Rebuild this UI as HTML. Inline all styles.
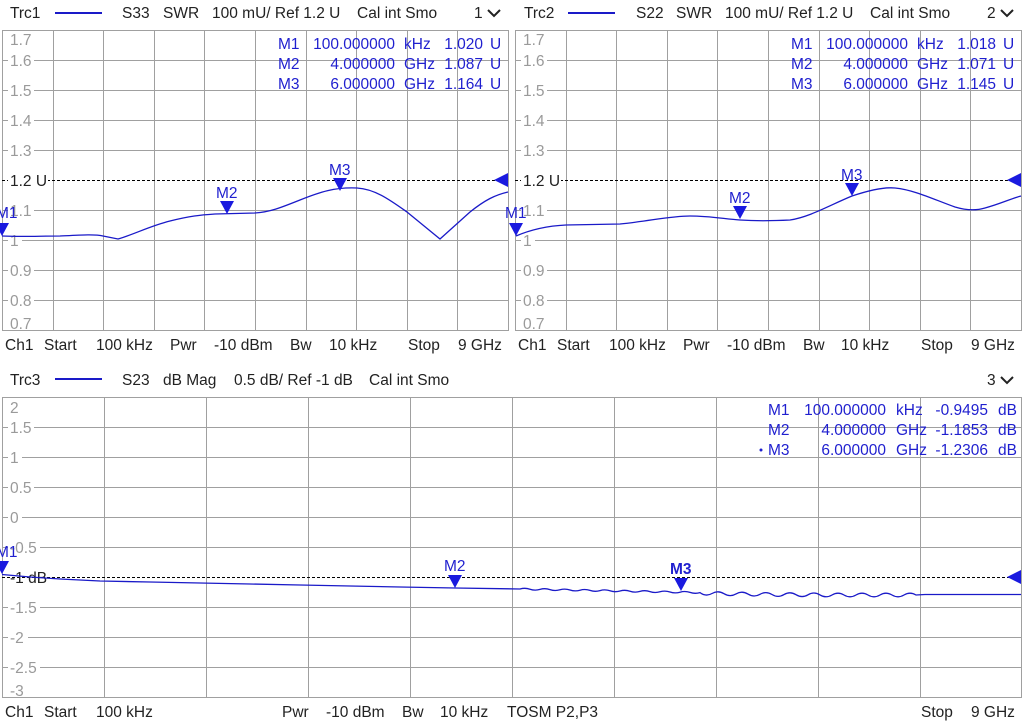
<!DOCTYPE html>
<html><head><meta charset="utf-8"><style>
body{margin:0;background:#fff}
svg{display:block}
text{font-family:"Liberation Sans",sans-serif;font-size:15.5px}
.g{fill:#9a9a9a}.k{fill:#222}.b{fill:#1f1fcf}
.grid{stroke:#a0a0a0;stroke-width:1;fill:none}
.tr{stroke:#1a1ac8;stroke-width:1.3;fill:none}
.ref{stroke:#000;stroke-width:1;stroke-dasharray:3,2}
</style></head><body>
<svg width="1024" height="726" viewBox="0 0 1024 726">
<!-- Panel 1 -->
<g>
<text x="10" y="18" class="k">Trc1</text>
<line x1="55" y1="13" x2="102" y2="13" stroke="#1a1ac8" stroke-width="2"/>
<text x="122" y="18" class="k">S33</text><text x="163" y="18" class="k">SWR</text>
<text x="212" y="18" class="k">100 mU/ Ref 1.2 U</text><text x="357" y="18" class="k">Cal int Smo</text>
<text x="474" y="18" class="k">1</text><polyline points="488,10 494,16 500,10" stroke="#222" stroke-width="2" fill="none"/>
<path class="grid" d="M2.5,30.5H508.5V330.5H2.5Z M53.5,30V330 M103.5,30V330 M154.5,30V330 M204.5,30V330 M255.5,30V330 M306.5,30V330 M356.5,30V330 M407.5,30V330 M457.5,30V330 M2,60.5H508 M2,90.5H508 M2,120.5H508 M2,150.5H508 M2,210.5H508 M2,240.5H508 M2,270.5H508 M2,300.5H508"/>
<line class="ref" x1="2" y1="180.5" x2="508" y2="180.5"/>
<rect x="8" y="31" width="26" height="15" fill="#fff"/>
<rect x="8" y="53" width="26" height="15" fill="#fff"/><rect x="8" y="83" width="26" height="15" fill="#fff"/>
<rect x="8" y="113" width="26" height="15" fill="#fff"/><rect x="8" y="143" width="26" height="15" fill="#fff"/>
<rect x="8" y="173" width="40" height="15" fill="#fff"/><rect x="8" y="203" width="26" height="15" fill="#fff"/>
<rect x="8" y="233" width="14" height="15" fill="#fff"/><rect x="8" y="263" width="26" height="15" fill="#fff"/>
<rect x="8" y="293" width="26" height="15" fill="#fff"/><rect x="8" y="316" width="26" height="13" fill="#fff"/>
<text x="10" y="45" class="g">1.7</text><text x="10" y="66" class="g">1.6</text><text x="10" y="96" class="g">1.5</text>
<text x="10" y="126" class="g">1.4</text><text x="10" y="156" class="g">1.3</text><text x="10" y="186" class="k">1.2 U</text>
<text x="10" y="216" class="g">1.1</text><text x="10" y="246" class="g">1</text><text x="10" y="276" class="g">0.9</text>
<text x="10" y="306" class="g">0.8</text><text x="10" y="329" class="g">0.7</text>
<path class="tr" d="M2,236 C20,237 40,236 60,236 C80,235 95,234 103,236 L118,239 C135,234 150,226 170,221 C190,216 200,215 215,214 L255,213 C270,212 280,208 300,200 C320,192 335,187 357,188 C375,189 390,200 407,212 L440,239 L470,212 C485,200 495,195 508,192"/>
<polygon points="220,201 234,201 227,214" fill="#1a1adf"/><text x="216" y="198" class="b">M2</text>
<polygon points="333,178 347,178 340,191" fill="#1a1adf"/><text x="329" y="175" class="b">M3</text>
<polygon points="-5,223 9,223 2,236" fill="#1a1adf"/><text x="-4" y="218" class="b">M1</text>
<polygon points="494,180 508,173 508,187" fill="#1a1adf"/>
<text x="278" y="49" class="b">M1</text><text x="278" y="69" class="b">M2</text><text x="278" y="89" class="b">M3</text>
<text x="395" y="49" class="b" text-anchor="end">100.000000</text><text x="395" y="69" class="b" text-anchor="end">4.000000</text><text x="395" y="89" class="b" text-anchor="end">6.000000</text>
<text x="404" y="49" class="b">kHz</text><text x="404" y="69" class="b">GHz</text><text x="404" y="89" class="b">GHz</text>
<text x="483" y="49" class="b" text-anchor="end">1.020</text><text x="483" y="69" class="b" text-anchor="end">1.087</text><text x="483" y="89" class="b" text-anchor="end">1.164</text>
<text x="490" y="49" class="b">U</text><text x="490" y="69" class="b">U</text><text x="490" y="89" class="b">U</text>
<text x="5" y="350" class="k">Ch1</text><text x="44" y="350" class="k">Start</text><text x="96" y="350" class="k">100 kHz</text>
<text x="170" y="350" class="k">Pwr</text><text x="214" y="350" class="k">-10 dBm</text><text x="290" y="350" class="k">Bw</text>
<text x="329" y="350" class="k">10 kHz</text><text x="408" y="350" class="k">Stop</text><text x="458" y="350" class="k">9 GHz</text>
</g>
<!-- Panel 2 -->
<g>
<text x="524" y="18" class="k">Trc2</text>
<line x1="568" y1="13" x2="615" y2="13" stroke="#1a1ac8" stroke-width="2"/>
<text x="636" y="18" class="k">S22</text><text x="676" y="18" class="k">SWR</text>
<text x="725" y="18" class="k">100 mU/ Ref 1.2 U</text><text x="870" y="18" class="k">Cal int Smo</text>
<text x="987" y="18" class="k">2</text><polyline points="1001,10 1007,16 1013,10" stroke="#222" stroke-width="2" fill="none"/>
<path class="grid" d="M515.5,30.5H1021.5V330.5H515.5Z M566.5,30V330 M616.5,30V330 M667.5,30V330 M717.5,30V330 M768.5,30V330 M819.5,30V330 M869.5,30V330 M920.5,30V330 M970.5,30V330 M515,60.5H1021 M515,90.5H1021 M515,120.5H1021 M515,150.5H1021 M515,210.5H1021 M515,240.5H1021 M515,270.5H1021 M515,300.5H1021"/>
<line class="ref" x1="515" y1="180.5" x2="1021" y2="180.5"/>
<rect x="521" y="31" width="26" height="15" fill="#fff"/>
<rect x="521" y="53" width="26" height="15" fill="#fff"/><rect x="521" y="83" width="26" height="15" fill="#fff"/>
<rect x="521" y="113" width="26" height="15" fill="#fff"/><rect x="521" y="143" width="26" height="15" fill="#fff"/>
<rect x="521" y="173" width="40" height="15" fill="#fff"/><rect x="521" y="203" width="26" height="15" fill="#fff"/>
<rect x="521" y="233" width="14" height="15" fill="#fff"/><rect x="521" y="263" width="26" height="15" fill="#fff"/>
<rect x="521" y="293" width="26" height="15" fill="#fff"/><rect x="521" y="316" width="26" height="13" fill="#fff"/>
<text x="523" y="45" class="g">1.7</text><text x="523" y="66" class="g">1.6</text><text x="523" y="96" class="g">1.5</text>
<text x="523" y="126" class="g">1.4</text><text x="523" y="156" class="g">1.3</text><text x="523" y="186" class="k">1.2 U</text>
<text x="523" y="216" class="g">1.1</text><text x="523" y="246" class="g">1</text><text x="523" y="276" class="g">0.9</text>
<text x="523" y="306" class="g">0.8</text><text x="523" y="329" class="g">0.7</text>
<path class="tr" d="M516,236 C530,230 545,226 566,225 L620,224 C650,221 670,216 690,216 C710,216 725,219 740,220 C755,221 770,221 790,220 C810,217 830,205 852,196 C870,190 885,187 895,188 C915,190 935,200 955,207 C965,210 975,211 985,208 C1000,204 1010,199 1021,196"/>
<polygon points="733,206 747,206 740,219" fill="#1a1adf"/><text x="729" y="203" class="b">M2</text>
<polygon points="845,183 859,183 852,196" fill="#1a1adf"/><text x="841" y="180" class="b">M3</text>
<polygon points="509,223 523,223 516,236" fill="#1a1adf"/><text x="505" y="218" class="b">M1</text>
<polygon points="1007,180 1021,173 1021,187" fill="#1a1adf"/>
<text x="791" y="49" class="b">M1</text><text x="791" y="69" class="b">M2</text><text x="791" y="89" class="b">M3</text>
<text x="908" y="49" class="b" text-anchor="end">100.000000</text><text x="908" y="69" class="b" text-anchor="end">4.000000</text><text x="908" y="89" class="b" text-anchor="end">6.000000</text>
<text x="917" y="49" class="b">kHz</text><text x="917" y="69" class="b">GHz</text><text x="917" y="89" class="b">GHz</text>
<text x="996" y="49" class="b" text-anchor="end">1.018</text><text x="996" y="69" class="b" text-anchor="end">1.071</text><text x="996" y="89" class="b" text-anchor="end">1.145</text>
<text x="1003" y="49" class="b">U</text><text x="1003" y="69" class="b">U</text><text x="1003" y="89" class="b">U</text>
<text x="518" y="350" class="k">Ch1</text><text x="557" y="350" class="k">Start</text><text x="609" y="350" class="k">100 kHz</text>
<text x="683" y="350" class="k">Pwr</text><text x="727" y="350" class="k">-10 dBm</text><text x="803" y="350" class="k">Bw</text>
<text x="841" y="350" class="k">10 kHz</text><text x="921" y="350" class="k">Stop</text><text x="971" y="350" class="k">9 GHz</text>
</g>
<!-- Panel 3 -->
<g>
<text x="10" y="385" class="k">Trc3</text>
<line x1="55" y1="379" x2="102" y2="379" stroke="#1a1ac8" stroke-width="2"/>
<text x="122" y="385" class="k">S23</text><text x="163" y="385" class="k">dB Mag</text>
<text x="234" y="385" class="k">0.5 dB/ Ref -1 dB</text><text x="369" y="385" class="k">Cal int Smo</text>
<text x="987" y="385" class="k">3</text><polyline points="1001,377 1007,383 1013,377" stroke="#222" stroke-width="2" fill="none"/>
<path class="grid" d="M2.5,397.5H1021.5V697.5H2.5Z M104.5,397V697 M206.5,397V697 M308.5,397V697 M410.5,397V697 M512.5,397V697 M614.5,397V697 M716.5,397V697 M818.5,397V697 M920.5,397V697 M2,427.5H1021 M2,457.5H1021 M2,487.5H1021 M2,517.5H1021 M2,547.5H1021 M2,607.5H1021 M2,637.5H1021 M2,667.5H1021"/>
<line class="ref" x1="2" y1="577.5" x2="1021" y2="577.5"/>
<rect x="8" y="399" width="14" height="15" fill="#fff"/><rect x="8" y="420" width="26" height="15" fill="#fff"/>
<rect x="8" y="450" width="14" height="15" fill="#fff"/><rect x="8" y="480" width="26" height="15" fill="#fff"/>
<rect x="8" y="510" width="14" height="15" fill="#fff"/><rect x="8" y="540" width="32" height="15" fill="#fff"/>
<rect x="8" y="600" width="32" height="15" fill="#fff"/><rect x="8" y="630" width="20" height="15" fill="#fff"/>
<rect x="8" y="660" width="32" height="15" fill="#fff"/><rect x="8" y="683" width="20" height="13" fill="#fff"/>
<text x="10" y="413" class="g">2</text><text x="10" y="433" class="g">1.5</text><text x="10" y="463" class="g">1</text>
<text x="10" y="493" class="g">0.5</text><text x="10" y="523" class="g">0</text><text x="10" y="553" class="g">-0.5</text>
<text x="10" y="583" class="k">-1 dB</text><text x="10" y="613" class="g">-1.5</text><text x="10" y="643" class="g">-2</text>
<text x="10" y="673" class="g">-2.5</text><text x="10" y="696" class="g">-3</text>
<path class="tr" d="M2,574.5 L30,577 L60,579 L100,581 L150,582 L200,583 L250,584 L300,585 L350,586 L400,587 L455,588 L520,589 Q525,587.5 530,589.2 T540,589.4 T550,589.6 T560,589.8 T570,590 T580,590.2 T590,590.4 T600,590.6 T610,590.8 T620,591 T630,591.2 T640,591.4 T650,591.6 T660,591.8 T670,592 T680,592.2 T690,592.4 T700,592.6 Q706,597 712,593.5 T724,593.7 T736,593.9 T748,594.1 T760,594.3 T772,594.5 T784,594.6 T796,594.7 T808,594.8 T820,594.9 T832,595 T844,595 T856,595 T868,595 T880,595 T892,595 T904,595 T916,595 L925,594.5 L1021,594.5"/>
<polygon points="448,575 462,575 455,588" fill="#1a1adf"/><text x="444" y="571" class="b">M2</text>
<polygon points="674,578 688,578 681,591" fill="#1a1adf"/><text x="670" y="574" class="b" font-weight="bold">M3</text>
<polygon points="-5,561 9,561 2,574" fill="#1a1adf"/><text x="-4" y="557" class="b">M1</text>
<polygon points="1007,577 1021,570 1021,584" fill="#1a1adf"/>
<circle cx="761" cy="450" r="1.5" fill="#1f1fcf"/>
<text x="768" y="415" class="b">M1</text><text x="768" y="435" class="b">M2</text><text x="768" y="455" class="b">M3</text>
<text x="886" y="415" class="b" text-anchor="end">100.000000</text><text x="886" y="435" class="b" text-anchor="end">4.000000</text><text x="886" y="455" class="b" text-anchor="end">6.000000</text>
<text x="896" y="415" class="b">kHz</text><text x="896" y="435" class="b">GHz</text><text x="896" y="455" class="b">GHz</text>
<text x="988" y="415" class="b" text-anchor="end">-0.9495</text><text x="988" y="435" class="b" text-anchor="end">-1.1853</text><text x="988" y="455" class="b" text-anchor="end">-1.2306</text>
<text x="998" y="415" class="b">dB</text><text x="998" y="435" class="b">dB</text><text x="998" y="455" class="b">dB</text>
<text x="5" y="717" class="k">Ch1</text><text x="44" y="717" class="k">Start</text><text x="96" y="717" class="k">100 kHz</text>
<text x="282" y="717" class="k">Pwr</text><text x="326" y="717" class="k">-10 dBm</text><text x="402" y="717" class="k">Bw</text>
<text x="440" y="717" class="k">10 kHz</text><text x="507" y="717" class="k">TOSM P2,P3</text>
<text x="921" y="717" class="k">Stop</text><text x="971" y="717" class="k">9 GHz</text>
</g>
</svg>
</body></html>
